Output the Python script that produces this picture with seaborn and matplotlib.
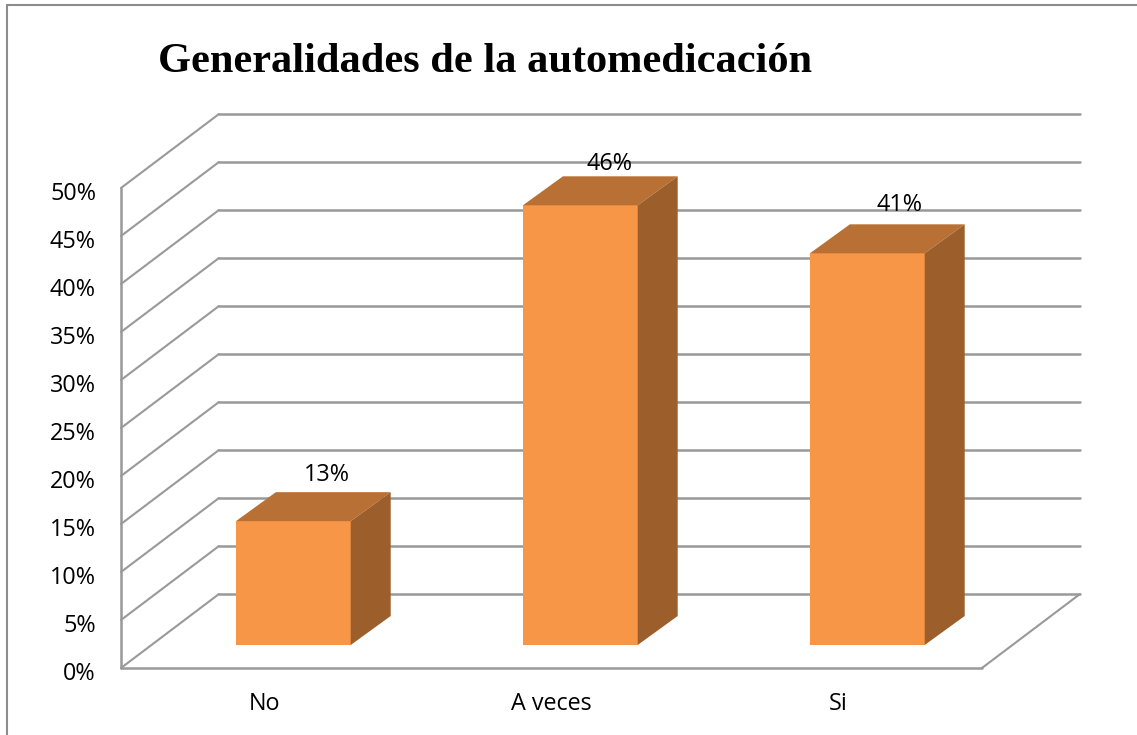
import matplotlib
matplotlib.use("Agg")
import matplotlib.pyplot as plt
import pandas as pd
import seaborn as sns
from matplotlib.lines import Line2D
from matplotlib.patches import Polygon
from matplotlib.transforms import Affine2D

# Values
categories = ["No", "A veces", "Si"]
percent = [12.9, 45.8, 40.8]
y_ticks = [0, 5, 10, 15, 20, 25, 30, 35, 40, 45, 50]
title = "Generalidades de la automedicación"

W, H = 1137, 735
FRONT_COLOR = "#F79646"
TOP_COLOR = "#B97034"
SIDE_COLOR = "#9C5F2C"
GRID_COLOR = "#999999"
LABEL_FONT = "Open Sans"
LABEL_SIZE = 16.8

sns.set_theme(style="white")
plt.rcParams["font.family"] = LABEL_FONT

fig = plt.figure(figsize=(W / 100, H / 100), dpi=100, facecolor="white")
# Axes is the front plane of the fake 3D box (pixels from the reference)
ax = fig.add_axes([121 / W, 1 - 668 / H, 861 / W, 480 / H])

df = pd.DataFrame({"cat": categories, "pct": percent})
sns.barplot(data=df, x="cat", y="pct", color=FRONT_COLOR, saturation=1, width=0.4, linewidth=0, ax=ax, zorder=3)
ax.set_xlim(-0.5, 2.5)
ax.set_ylim(0, 50)

# Depth vector of the box, in data units
DX = 98 / (861 / 3)
DY = 74 / (480 / 50)
# Bars stand part way back on the floor, and have their own depth
BAR_SHIFT_X = 28.8 / (861 / 3)
BAR_SHIFT_Y = 23 / (480 / 50)
BAR_DEPTH_X = 40 / (861 / 3)
BAR_DEPTH_Y = 29 / (480 / 50)

# Walls
x0, x1 = ax.get_xlim()
for t in y_ticks:
    ax.plot([x0, x0 + DX], [t, t + DY], color=GRID_COLOR, lw=1.5, clip_on=False, zorder=1)
    ax.plot([x0 + DX, x1 + DX], [t + DY, t + DY], color=GRID_COLOR, lw=1.8, clip_on=False, zorder=1)
ax.plot([x0, x0], [0, 50], color=GRID_COLOR, lw=1.8, clip_on=False, zorder=1)
ax.plot([x0, x1], [0, 0], color=GRID_COLOR, lw=1.8, clip_on=False, zorder=1)
ax.plot([x1, x1 + DX], [0, DY], color=GRID_COLOR, lw=1.5, clip_on=False, zorder=1)

# Move the bars back and add top and side faces
label_nudge = [(34, 46), (29, 41), (32, 48)]
for bar, nudge in zip(ax.patches, label_nudge):
    bar.set_x(bar.get_x() + BAR_SHIFT_X)
    bar.set_y(BAR_SHIFT_Y)
    bar.set_clip_on(False)
    left = bar.get_x()
    right = left + bar.get_width()
    bottom = bar.get_y()
    top = bottom + bar.get_height()
    bx = BAR_DEPTH_X
    by = BAR_DEPTH_Y
    ax.add_patch(Polygon([(left, top), (right, top), (right + bx, top + by), (left + bx, top + by)],
                         facecolor=TOP_COLOR, edgecolor="none", clip_on=False, zorder=3))
    ax.add_patch(Polygon([(right, bottom), (right + bx, bottom + by), (right + bx, top + by), (right, top)],
                         facecolor=SIDE_COLOR, edgecolor="none", clip_on=False, zorder=3))
    ax.annotate(f"{bar.get_height():.0f}%", xy=((left + right) / 2, top), xytext=(nudge[0] * 0.72, nudge[1] * 0.72),
                textcoords="offset points", ha="center", va="center", fontsize=LABEL_SIZE, color="black", zorder=4,
                annotation_clip=False)

ax.set_xlabel("")
ax.set_ylabel("")
ax.set_yticks(y_ticks)
ax.set_yticklabels([f"{t}%" for t in y_ticks])
ax.tick_params(axis="y", length=0, pad=18, labelsize=LABEL_SIZE, labelcolor="black")
ax.tick_params(axis="x", length=0, pad=17, labelsize=LABEL_SIZE, labelcolor="black")
# Tick labels sit a little under their gridline in the reference
for lab in ax.get_yticklabels():
    lab.set_transform(lab.get_transform() + Affine2D().translate(0, -3))
sns.despine(ax=ax, left=True, bottom=True)
ax.patch.set_alpha(0)

# Title
fig.text(158 / W, 1 - 72 / H, title, family="Liberation Serif", fontweight="bold", fontsize=30.5,
         color="black", ha="left", va="baseline")

# Chart border, cropped on the right and bottom
fig.add_artist(Line2D([6.5 / W, 6.5 / W], [0, 1 - 5 / H], color="#8C8C8C", lw=1.5))
fig.add_artist(Line2D([6.5 / W, 1], [1 - 5 / H, 1 - 5 / H], color="#8C8C8C", lw=1.5))

fig.savefig("out.png", dpi=100)
